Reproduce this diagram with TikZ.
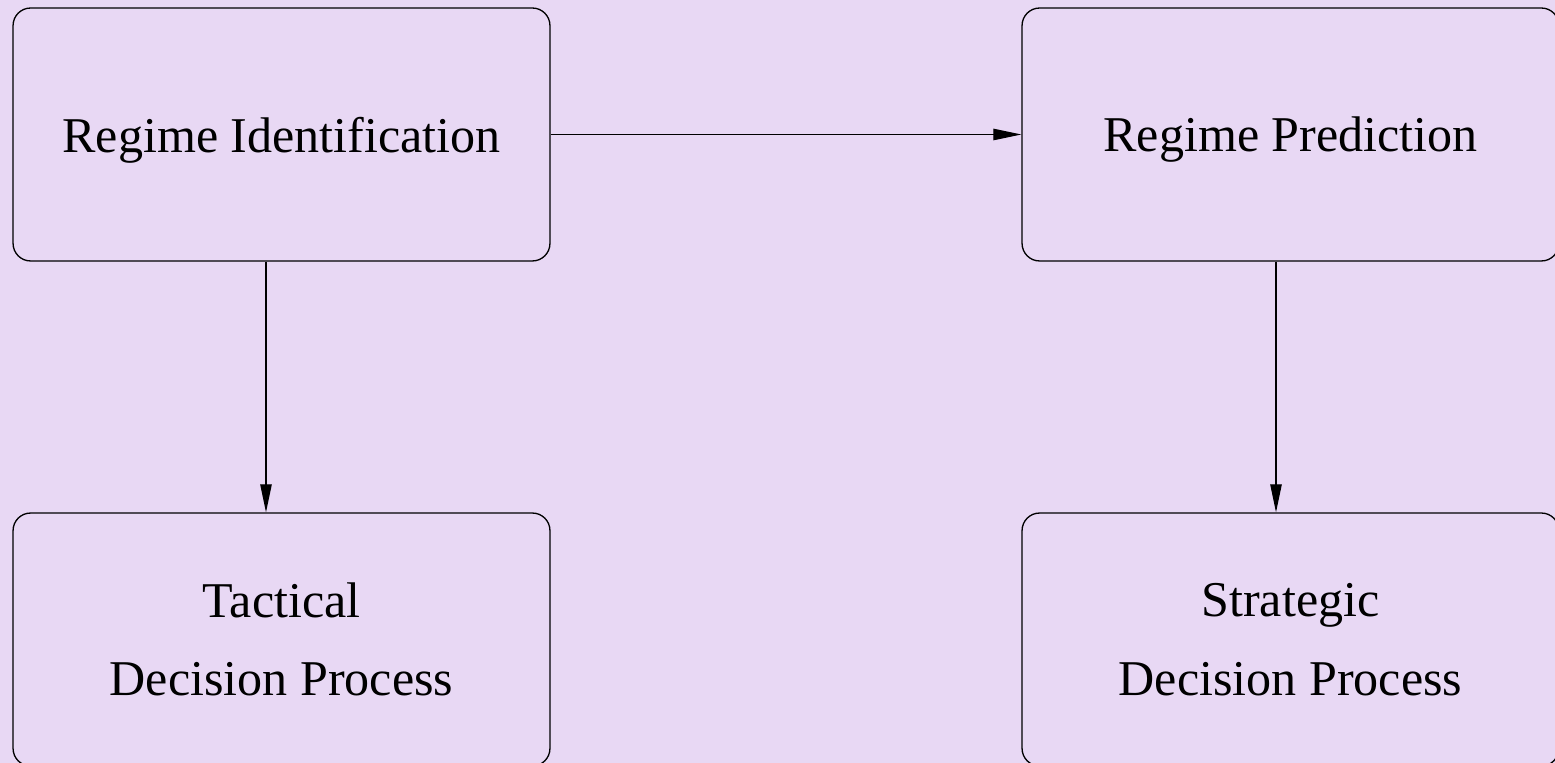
\documentclass[tikz,border=0pt]{standalone}
\usepackage{fontspec}
\usetikzlibrary{arrows.meta}
\setmainfont{Liberation Serif}
\definecolor{lavender}{RGB}{232,216,244}

\begin{document}
\begin{tikzpicture}[x=0.02cm,y=-0.02cm,
  stage/.style={draw, line width=0.75pt, rounded corners=10pt, align=center,
    minimum width=10.74cm, minimum height=5.06cm, text depth=0pt,
    font=\fontsize{28.5}{44.5}\selectfont},
  >={Triangle[length=16pt,width=6.5pt]}]
  % background
  \fill[lavender] (0,0) rectangle (1555,763);
  \useasboundingbox (0,0) rectangle (1555,763);
  \clip (0,0) rectangle (1555,763);

  % Regimes
  \node[stage] (ident) at (281.5,134.5) {Regime Identification};
  \node[stage] (pred) at (1290.5,134.5) {Regime Prediction};

  % Decisions
  \node[stage] (tact) at (281.5,639.5) {Tactical\\Decision Process};
  \node[stage] (strat) at (1290.5,639.5) {Strategic\\Decision Process};

  \draw[->,line width=0.75pt] (ident.east)--(pred.west);
  \draw[->,line width=0.75pt] ([xshift=-0.31cm]ident.south)--([xshift=-0.31cm]tact.north);
  \draw[->,line width=0.75pt] ([xshift=-0.29cm]pred.south)--([xshift=-0.29cm]strat.north);
\end{tikzpicture}
\end{document}
